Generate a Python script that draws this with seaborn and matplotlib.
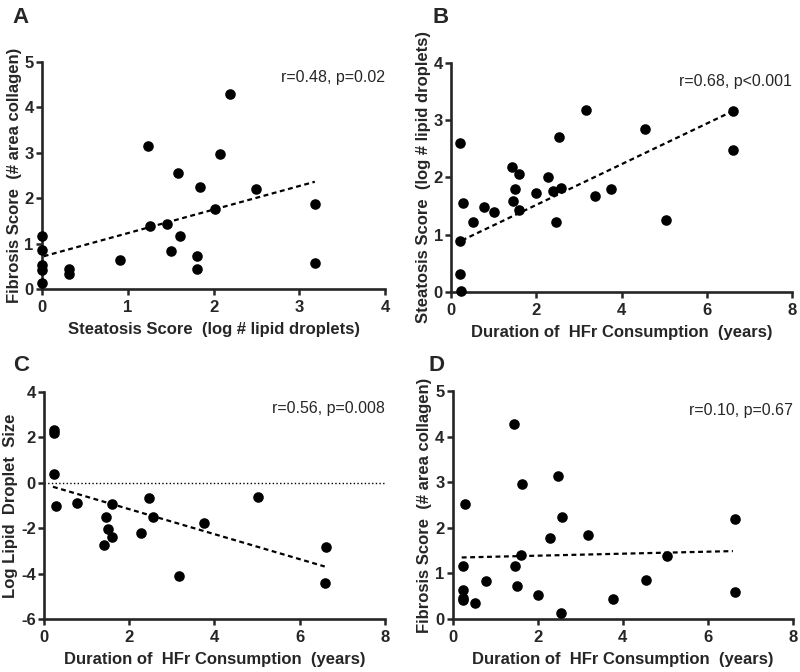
import numpy as np
import pandas as pd
import matplotlib
matplotlib.use("Agg")
import matplotlib.pyplot as plt
import seaborn as sns

# Panel A: steatosis vs fibrosis
a_steatosis = [0, 0, 0, 0, 0, 0.31, 0.31, 0.91, 1.24, 1.26, 1.46, 1.50, 1.58, 1.61,
               1.81, 1.81, 1.84, 2.02, 2.07, 2.19, 2.49, 3.18, 3.18]
a_fibrosis = [1.16, 0.85, 0.52, 0.41, 0.13, 0.45, 0.34, 0.63, 3.14, 1.39, 1.42, 0.84, 2.56, 1.16,
              0.73, 0.43, 2.25, 1.75, 2.97, 4.29, 2.20, 1.86, 0.57]
a_fit_x = [0.02, 3.18]
a_fit_y = [0.72, 2.36]

# Panel B: duration vs steatosis
b_duration = [0.21, 0.27, 0.21, 0.20, 0.23, 0.52, 0.78, 1.01, 1.42, 1.46, 1.50, 1.58, 1.60,
              2.00, 2.27, 2.40, 2.47, 2.54, 2.58, 3.17, 3.37, 3.76, 4.54, 5.04, 6.61, 6.61]
b_steatosis = [2.60, 1.56, 0.89, 0.31, 0.01, 1.23, 1.49, 1.40, 2.19, 1.59, 1.79, 1.43, 2.06,
               1.73, 2.01, 1.77, 1.23, 2.70, 1.82, 3.17, 1.68, 1.79, 2.84, 1.26, 3.16, 2.47]
b_fit_x = [0.25, 6.59]
b_fit_y = [0.90, 3.15]

# Panel C: duration vs log lipid droplet size
c_duration = [0.23, 0.23, 0.23, 0.29, 0.78, 1.45, 1.42, 1.50, 1.59, 1.59, 2.27, 2.47, 2.56,
              3.16, 3.75, 5.03, 6.61, 6.59]
c_size = [2.34, 2.17, 0.38, -1.02, -0.91, -1.49, -2.74, -2.04, -2.37, -0.95, -2.23, -0.69, -1.49,
          -4.10, -1.76, -0.64, -2.81, -4.42]
c_fit_x = [0.21, 6.59]
c_fit_y = [-0.18, -3.69]

# Panel D: duration vs fibrosis
d_duration = [0.29, 0.23, 0.23, 0.23, 0.23, 0.52, 0.78, 1.44, 1.46, 1.50, 1.60, 1.62, 2.01,
              2.29, 2.48, 2.54, 2.58, 3.17, 3.77, 4.55, 5.05, 6.63, 6.63]
d_fibrosis = [2.52, 1.16, 0.63, 0.46, 0.41, 0.36, 0.83, 4.29, 1.16, 0.73, 1.41, 2.97, 0.52,
              1.78, 3.14, 0.14, 2.24, 1.85, 0.43, 0.85, 1.38, 0.59, 2.20]
d_fit_x = [0.21, 6.59]
d_fit_y = [1.35, 1.49]

sns.set_style("ticks")
plt.rcParams['font.family'] = ['Liberation Sans', 'DejaVu Sans']
plt.rcParams['axes.unicode_minus'] = False

fig = plt.figure(figsize=(8, 6.72), dpi=100)

panels = [
    dict(x=a_steatosis, y=a_fibrosis, fx=a_fit_x, fy=a_fit_y, pos=[0.0525, 0.570, 0.429, 0.338],
         xlim=(0, 4), ylim=(0, 5), xt=np.arange(0, 5, 1), yt=np.arange(0, 6, 1),
         xl="Steatosis Score  (log # lipid droplets)", yl="Fibrosis Score  (# area collagen)",
         txt="r=0.48, p=0.02", ty=0.93, letter="A", lp=(0.016, 0.99)),
    dict(x=b_duration, y=b_steatosis, fx=b_fit_x, fy=b_fit_y, pos=[0.564, 0.5655, 0.426, 0.341],
         xlim=(0, 8), ylim=(0, 4), xt=np.arange(0, 9, 2), yt=np.arange(0, 5, 1),
         xl="Duration of  HFr Consumption  (years)", yl="Steatosis Score  (log # lipid droplets)",
         txt="r=0.68, p<0.001", ty=0.917, letter="B", lp=(0.54, 0.99)),
    dict(x=c_duration, y=c_size, fx=c_fit_x, fy=c_fit_y, pos=[0.055, 0.0789, 0.426, 0.338],
         xlim=(0, 8), ylim=(-6, 4), xt=np.arange(0, 9, 2), yt=np.arange(-6, 5, 2),
         xl="Duration of  HFr Consumption  (years)", yl="Log Lipid  Droplet  Size",
         txt="r=0.56, p=0.008", ty=0.925, letter="C", lp=(0.016, 0.472)),
    dict(x=d_duration, y=d_fibrosis, fx=d_fit_x, fy=d_fit_y, pos=[0.566, 0.0789, 0.425, 0.339],
         xlim=(0, 8), ylim=(0, 5), xt=np.arange(0, 9, 2), yt=np.arange(0, 6, 1),
         xl="Duration of  HFr Consumption  (years)", yl="Fibrosis Score  (# area collagen)",
         txt="r=0.10, p=0.67", ty=0.917, letter="D", lp=(0.536, 0.472)),
]

for p in panels:
    ax = fig.add_axes(p["pos"])
    sns.scatterplot(x=p["x"], y=p["y"], ax=ax, color="black", s=58, linewidth=0,
                    clip_on=False, zorder=3)
    sns.lineplot(x=p["fx"], y=p["fy"], ax=ax, color="black",
                 linestyle=(0, (2.2, 1.6)), linewidth=1.6)
    if p["letter"] == "C":
        ax.axhline(0, color="black", linestyle=":", linewidth=1.0)
    ax.set_xlim(*p["xlim"])
    ax.set_ylim(*p["ylim"])
    ax.set_xticks(p["xt"])
    ax.set_yticks(p["yt"])
    ax.set_xlabel(p["xl"], fontsize=12, fontweight="bold", labelpad=5)
    ax.set_ylabel(p["yl"], fontsize=12, fontweight="bold", labelpad=2)
    for lab in ax.get_xticklabels() + ax.get_yticklabels():
        lab.set_fontweight("bold")
        lab.set_fontsize(12)
    ax.tick_params(axis="x", width=1.8, length=4.5, pad=3.5)
    ax.tick_params(axis="y", width=1.8, length=4.5, pad=1.5)
    for s in ["left", "bottom"]:
        ax.spines[s].set_linewidth(1.9)
    sns.despine(ax=ax)
    ax.text(1.0, p["ty"], p["txt"], transform=ax.transAxes, ha="right", va="center",
            fontsize=11.5)
    fig.text(p["lp"][0], p["lp"][1], p["letter"], fontsize=16, fontweight="bold",
             ha="left", va="top")

fig.savefig("out.png", dpi=100)
